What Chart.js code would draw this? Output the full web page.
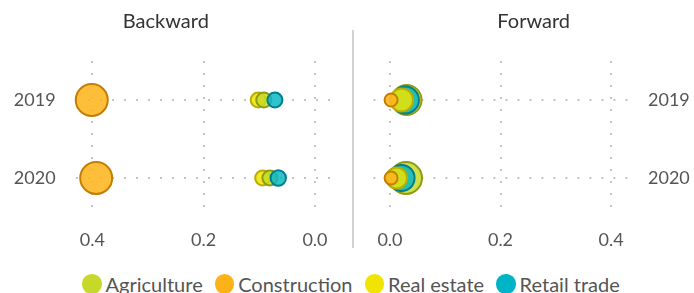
<!DOCTYPE html>
<html><head><meta charset="utf-8">
<script src="https://cdn.jsdelivr.net/npm/chart.js@4/dist/chart.umd.min.js"></script>
<style>
html,body{margin:0;padding:0;background:#fff;}
#wrap{position:relative;width:694px;height:293px;overflow:hidden;font-family:Lato,sans-serif;}
canvas{position:absolute;top:0;}
#cb{left:0}
#cf{left:354px}
#divider{position:absolute;left:352px;top:30px;width:2px;height:218px;background:#d2d2d2;}
#legend{position:absolute;left:82px;top:272px;height:24px;display:flex;align-items:center;font-size:20px;color:#555;white-space:nowrap;}
.item{display:flex;align-items:center;margin-right:12px;}
.sw{width:19.5px;height:19.5px;border-radius:50%;margin-right:4px;}
</style></head>
<body>
<div id="wrap">
  <canvas id="cb" width="354" height="260"></canvas>
  <canvas id="cf" width="340" height="260"></canvas>
  <div id="divider"></div>
  <div id="legend"></div>
</div>
<script>
// ---- data ----
const years = ['2019', '2020'];
const categories = ['Agriculture', 'Construction', 'Real estate', 'Retail trade'];
const xTickValues = [0, 0.2, 0.4];
const panelTitles = ['Backward', 'Forward'];

// Backward linkages (value, bubble radius)
const backwardAgriculture = [0.092, 0.081];
const backwardConstruction = [0.401, 0.393];
const backwardRealEstate = [0.102, 0.094];
const backwardRetailTrade = [0.072, 0.066];
const backwardSizeAgriculture = [7.5, 7.5];
const backwardSizeConstruction = [16, 16];
const backwardSizeRealEstate = [7.5, 7.5];
const backwardSizeRetailTrade = [7.5, 7.7];

// Forward linkages
const forwardAgriculture = [0.030, 0.029];
const forwardConstruction = [0.002, 0.002];
const forwardRealEstate = [0.021, 0.012];
const forwardRetailTrade = [0.028, 0.021];
const forwardSizeAgriculture = [15, 16];
const forwardSizeConstruction = [6.5, 6.5];
const forwardSizeRealEstate = [11.5, 10.5];
const forwardSizeRetailTrade = [13.5, 13];

// ---- styles ----
const swatch = ['#c6d92a', '#fdb218', '#f0e400', '#00b4c8'];
const fills = ['rgba(200,218,40,0.85)', 'rgba(253,182,30,0.88)', 'rgba(240,228,0,0.85)', 'rgba(10,184,198,0.85)'];
const borders = ['#8f9c12', '#c57d05', '#b9ad00', '#007f8e'];
const gridColor = '#c4c4c4';
const FONT = 'Lato';

function mk(vals, sizes) {
  return years.map((y, i) => ({x: vals[i], y: i, r: sizes[i]}));
}
function ds(ci, vals, sizes, order) {
  return {
    label: categories[ci],
    data: mk(vals, sizes),
    backgroundColor: fills[ci],
    borderColor: borders[ci],
    borderWidth: 2,
    hoverRadius: 0,
    hoverBorderWidth: 2,
    order: order,
    clip: false
  };
}

function makeOptions(title, reverseX, yPos, padding, yWidth, yPad) {
  return {
    responsive: false,
    animation: false,
    events: [],
    layout: {padding: padding},
    plugins: {
      legend: {display: false},
      tooltip: {enabled: false},
      title: {
        display: true, text: title, color: '#333',
        font: {family: FONT, size: 20, weight: 'normal'},
        padding: {top: 10, bottom: 27}
      }
    },
    scales: {
      x: {
        type: 'linear', min: -0.03, max: 0.43, reverse: reverseX,
        afterBuildTicks: s => { s.ticks = xTickValues.map(v => ({value: v})); },
        afterFit: s => { s.height = 43; },
        ticks: {
          color: '#555', font: {family: FONT, size: 18}, padding: 12,
          callback: v => v.toFixed(1)
        },
        grid: {color: gridColor, lineWidth: 2, drawTicks: false, borderDash: [2, 10]},
        border: {display: false, dash: [2, 10]}
      },
      y: {
        type: 'linear', min: -0.5, max: 1.5, reverse: true, position: yPos,
        afterBuildTicks: s => { s.ticks = years.map((y, i) => ({value: i})); },
        afterFit: s => { s.width = yWidth; },
        ticks: {
          color: '#555', font: {family: FONT, size: 18}, padding: yPad,
          callback: v => years[v]
        },
        grid: {color: gridColor, lineWidth: 2, drawTicks: false, borderDash: [2, 10]},
        border: {display: false, dash: [2, 10]}
      }
    }
  };
}

new Chart(document.getElementById('cb'), {
  type: 'bubble',
  data: {datasets: [
    ds(0, backwardAgriculture, backwardSizeAgriculture, 2),
    ds(1, backwardConstruction, backwardSizeConstruction, 0),
    ds(2, backwardRealEstate, backwardSizeRealEstate, 3),
    ds(3, backwardRetailTrade, backwardSizeRetailTrade, 1)
  ]},
  options: makeOptions(panelTitles[0], true, 'left', {left: 0, right: 22.3, top: 0, bottom: 0}, 75.6, 20)
});

new Chart(document.getElementById('cf'), {
  type: 'bubble',
  data: {datasets: [
    ds(0, forwardAgriculture, forwardSizeAgriculture, 3),
    ds(1, forwardConstruction, forwardSizeConstruction, 0),
    ds(2, forwardRealEstate, forwardSizeRealEstate, 1),
    ds(3, forwardRetailTrade, forwardSizeRetailTrade, 2)
  ]},
  options: makeOptions(panelTitles[1], false, 'right', {left: 19.4, right: 0, top: 0, bottom: 0}, 66.4, 20.4)
});

// legend
const leg = document.getElementById('legend');
categories.forEach((c, i) => {
  const it = document.createElement('div');
  it.className = 'item';
  const sw = document.createElement('span');
  sw.className = 'sw';
  sw.style.background = swatch[i];
  const tx = document.createElement('span');
  tx.textContent = c;
  it.appendChild(sw); it.appendChild(tx);
  leg.appendChild(it);
});
</script>
</body></html>
